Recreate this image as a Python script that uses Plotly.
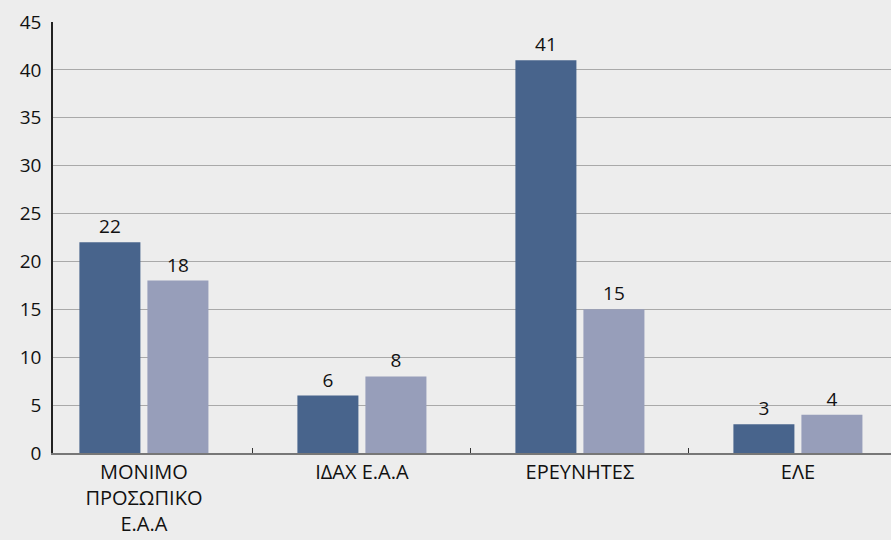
import plotly.graph_objects as go

# Staff categories and the two compared series
categories = ["ΜΟΝΙΜΟ<br>ΠΡΟΣΩΠΙΚΟ<br>Ε.Α.Α", "ΙΔΑΧ Ε.Α.Α", "ΕΡΕΥΝΗΤΕΣ", "ΕΛΕ"]
series_a = [22, 6, 41, 3]
series_b = [18, 8, 15, 4]
y_ticks = [0, 5, 10, 15, 20, 25, 30, 35, 40, 45]

font_family = "Open Sans, Noto Sans, DejaVu Sans, sans-serif"
bg = "#ededed"

fig = go.Figure()
fig.add_trace(go.Bar(
    x=categories, y=series_a, name="A",
    marker=dict(color="#48648c", line=dict(width=0)),
    text=[str(v) for v in series_a], textposition="outside",
    textfont=dict(size=19, color="#111111", family=font_family),
    cliponaxis=False,
))
fig.add_trace(go.Bar(
    x=categories, y=series_b, name="B",
    marker=dict(color="#979eba", line=dict(width=0)),
    text=[str(v) for v in series_b], textposition="outside",
    textfont=dict(size=19, color="#111111", family=font_family),
    cliponaxis=False,
))

fig.update_layout(
    width=891, height=540,
    margin=dict(l=53, r=0, t=22, b=87),
    paper_bgcolor=bg, plot_bgcolor=bg,
    barmode="group", bargap=0.376, bargroupgap=0.103,
    showlegend=False,
    font=dict(family=font_family, size=19, color="#111111"),
)
fig.update_xaxes(
    type="category", range=[-0.417, 3.427],
    tickson="boundaries", ticks="inside", ticklen=5, tickcolor="#333333",
    showline=True, linecolor="#777777", linewidth=1.5,
    showgrid=False, tickfont=dict(size=20),
)
fig.update_yaxes(
    range=[0, 45], tickvals=y_ticks, ticks="",
    showline=True, linecolor="#222222", linewidth=1.5,
    showgrid=True, gridcolor="#a9a9a9", gridwidth=1,
    zeroline=False, tickfont=dict(size=19), ticklabelstandoff=6,
)

fig.write_html("out.html")
